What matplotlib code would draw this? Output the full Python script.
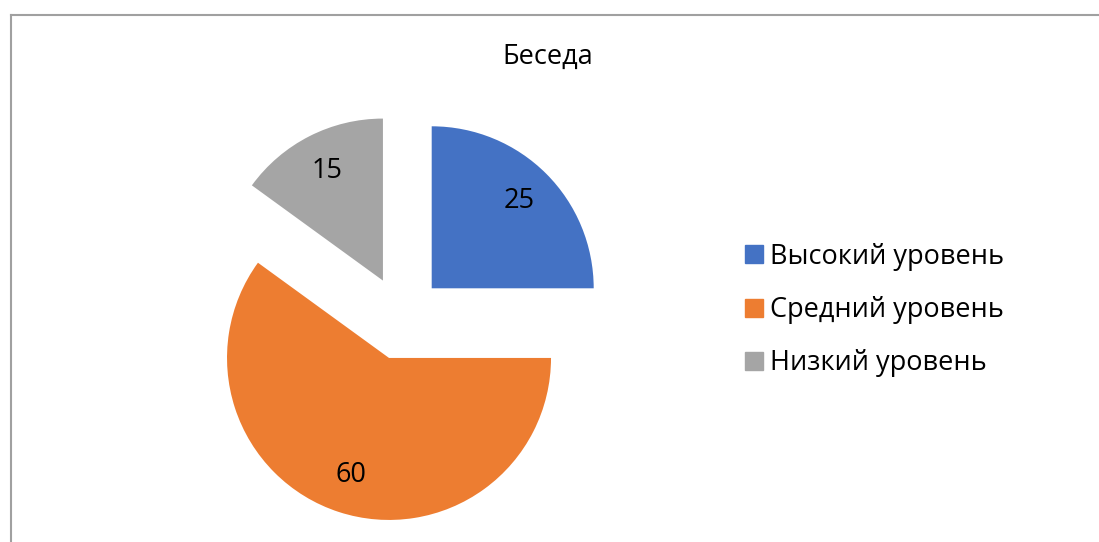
import matplotlib.pyplot as plt
from matplotlib.lines import Line2D

plt.rcParams['font.family'] = ['Open Sans', 'DejaVu Sans']

title = 'Беседа'
levels = ['Высокий уровень', 'Средний уровень', 'Низкий уровень']
values = [25, 60, 15]
colors = ['#4472C4', '#ED7D31', '#A5A5A5']

W, H = 1099, 542
fig = plt.figure(figsize=(W / 100, H / 100), dpi=100)
ax = fig.add_axes([0, 0, 1, 1])

# pie in pixel-like data units so the layout is easy to place
wedges, texts, autotexts = ax.pie(
    values, colors=colors, startangle=90, counterclock=False,
    explode=[42] * 3, radius=162, center=(402, H - 318),
    autopct='%.0f', pctdistance=0.76,
    wedgeprops={'linewidth': 0},
    textprops={'fontsize': 19.5, 'color': 'black'})
ax.set_xlim(0, W)
ax.set_ylim(0, H)
ax.set_aspect('equal')
ax.axis('off')

# chart frame (top and left edges visible)
ax.plot([11, W], [H - 14.5, H - 14.5], color='#A0A0A0', lw=1.5, clip_on=False)
ax.plot([11, 11], [0, H - 14.5], color='#A0A0A0', lw=1.5, clip_on=False)

ax.text(548, H - 57, title, ha='center', va='center', fontsize=19.5)

handles = [Line2D([], [], marker='s', linestyle='none', markersize=12.5,
                  markerfacecolor=c, markeredgecolor=c) for c in colors]
leg = ax.legend(handles, levels, loc='center left', frameon=False,
                bbox_to_anchor=(716 / W, 1 - 310 / H), fontsize=19.5,
                labelspacing=0.93, handletextpad=0.1, handlelength=1.0)

fig.savefig('out.png', dpi=100)
